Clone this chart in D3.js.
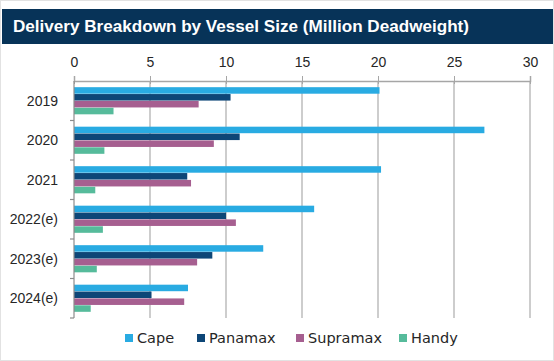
<!DOCTYPE html>
<html>
<head>
<meta charset="utf-8">
<script src="https://cdn.jsdelivr.net/npm/d3@7/dist/d3.min.js"></script>
<style>
  html, body { margin: 0; padding: 0; background: #fff; }
  svg { display: block; }
</style>
</head>
<body>
<div id="chart"></div>
<script>
// Data
const years = ['2019', '2020', '2021', '2022(e)', '2023(e)', '2024(e)'];
const series = ['Cape', 'Panamax', 'Supramax', 'Handy'];
const cape     = [20.1, 27.0, 20.2, 15.8, 12.45, 7.5];
const panamax  = [10.3, 10.9, 7.45, 10.0, 9.1, 5.1];
const supramax = [8.2, 9.2, 7.7, 10.65, 8.1, 7.25];
const handy    = [2.6, 2.0, 1.4, 1.9, 1.5, 1.1];
const xTicks = [0, 5, 10, 15, 20, 25, 30];
const title = 'Delivery Breakdown by Vessel Size (Million Deadweight)';

const values = {Cape: cape, Panamax: panamax, Supramax: supramax, Handy: handy};
const colors = {Cape: '#29abe2', Panamax: '#0d4677', Supramax: '#a65f90', Handy: '#56bb9b'};

const W = 554, H = 361;
const margin = {top: 81, right: 24, bottom: 43, left: 74};
const width = W - margin.left - margin.right;
const height = H - margin.top - margin.bottom;

const svg = d3.select('#chart').append('svg')
    .attr('width', W)
    .attr('height', H);

// faint outer frame
svg.append('rect')
    .attr('x', 0.5).attr('y', 0.5)
    .attr('width', W - 1).attr('height', H - 1)
    .attr('fill', 'none')
    .attr('stroke', '#e2e2e2');

// Title bar
svg.append('rect')
    .attr('x', 2).attr('y', 9)
    .attr('width', W - 3).attr('height', 35)
    .attr('fill', '#073358');
svg.append('text')
    .attr('x', 13).attr('y', 32)
    .attr('fill', '#fff')
    .attr('font-family', 'Liberation Sans, Arial, sans-serif')
    .attr('font-weight', 'bold')
    .attr('font-size', 17.1)
    .text(title);

const g = svg.append('g')
    .attr('transform', `translate(${margin.left},${margin.top})`);

// Scales
const x = d3.scaleLinear().domain([0, 30]).range([0, width]);
const y = d3.scaleBand().domain(years).range([0, height]).padding(0);
const ySub = d3.scaleBand().domain(series).range([0, y.bandwidth()])
    .paddingInner(0.05).paddingOuter(0.9);

// Vertical gridlines
g.append('g')
    .selectAll('line')
    .data(xTicks.slice(1))
    .join('line')
    .attr('x1', d => x(d)).attr('x2', d => x(d))
    .attr('y1', 0).attr('y2', height)
    .attr('stroke', '#bdbdbd')
    .attr('stroke-width', 1.5);

// Top axis (ticks cross the axis line)
const xAxis = g.append('g')
    .call(d3.axisTop(x).tickValues(xTicks).tickSize(5).tickPadding(9).tickFormat(d3.format('d')));
xAxis.select('.domain').attr('stroke', '#a6a6a6').attr('stroke-width', 1.5);
xAxis.selectAll('.tick line').attr('stroke', '#a6a6a6').attr('y2', 3).attr('y1', -5);
xAxis.selectAll('.tick text')
    .attr('font-family', 'Liberation Sans, Arial, sans-serif')
    .attr('font-size', 14)
    .attr('fill', '#262626');

// Bars
const groups = g.append('g')
    .selectAll('g')
    .data(years)
    .join('g')
    .attr('transform', d => `translate(0,${y(d)})`);

groups.selectAll('rect')
    .data((d, i) => series.map(s => ({s, v: values[s][i]})))
    .join('rect')
    .attr('x', x(0))
    .attr('y', d => ySub(d.s))
    .attr('width', d => x(d.v) - x(0))
    .attr('height', ySub.bandwidth())
    .attr('fill', d => colors[d.s]);

// Left axis with ticks between categories
const yAxis = g.append('g');
yAxis.append('line')
    .attr('x1', 0).attr('x2', 0)
    .attr('y1', 0).attr('y2', height)
    .attr('stroke', '#8c8c8c')
    .attr('stroke-width', 1.2);
yAxis.selectAll('line.tk')
    .data(years.map(d => y(d) + y.bandwidth()))
    .join('line')
    .attr('class', 'tk')
    .attr('x1', -4).attr('x2', 0)
    .attr('y1', d => d).attr('y2', d => d)
    .attr('stroke', '#8c8c8c')
    .attr('stroke-width', 1.2);
yAxis.selectAll('text')
    .data(years)
    .join('text')
    .attr('x', -16)
    .attr('y', d => y(d) + y.bandwidth() / 2)
    .attr('dy', '0.35em')
    .attr('text-anchor', 'end')
    .attr('font-family', 'Liberation Sans, Arial, sans-serif')
    .attr('font-size', 14)
    .attr('fill', '#262626')
    .text(d => d);

// Legend
const legendX = [125, 197, 296, 399];
const legend = svg.append('g')
    .selectAll('g')
    .data(series)
    .join('g')
    .attr('transform', (d, i) => `translate(${legendX[i]},334)`);
legend.append('rect')
    .attr('width', 8).attr('height', 8)
    .attr('fill', d => colors[d]);
legend.append('text')
    .attr('x', 12).attr('y', 9)
    .attr('font-family', 'DejaVu Sans, sans-serif')
    .attr('font-size', 14.5)
    .attr('fill', '#262626')
    .text(d => d);
</script>
</body>
</html>
